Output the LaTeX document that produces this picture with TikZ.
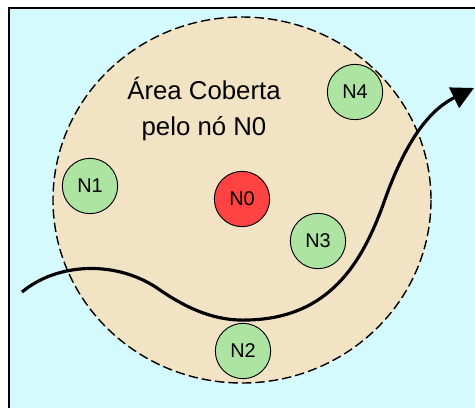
\documentclass[tikz,border=0pt]{standalone}
\usepackage{fontspec}
\setmainfont{Liberation Sans}
\usetikzlibrary{arrows.meta}
\definecolor{fundo}{RGB}{212,250,253}
\definecolor{area}{RGB}{243,227,197}
\definecolor{verde}{RGB}{174,228,162}
\definecolor{vermelho}{RGB}{255,66,66}
\tikzset{
  sensor/.style={circle, draw, line width=0.8pt, fill=verde, minimum size=1.66cm, inner sep=0pt, font=\fontsize{17}{20}\selectfont},
  alcance/.style={draw, line width=1.2pt, dash pattern=on 8pt off 3.5pt, fill=area},
  trajeto/.style={line width=2.7pt, -{Triangle[length=19pt, width=19pt]}}
}
\begin{document}
\begin{tikzpicture}[x=0.03cm, y=-0.03cm]
    \clip (0,0) rectangle (475,407);
    \draw[fill=fundo, line width=1pt] (9,8) rectangle (490,420);
    \draw[alcance] (242,200) ellipse (189 and 183);

    \node[align=center, font=\fontsize{22}{30.5}\selectfont] (texto) at (204,109) {Área Coberta\\pelo nó N0};

    \node[sensor, fill=vermelho] (N0) at (242,199) {N0};
    \foreach \nome/\x/\y in {N1/90/186, N2/243/351, N3/318/241, N4/355/92}
    \node[sensor] (\nome) at (\x,\y) {\nome};

    \coordinate (inicio) at (22,292);
    \coordinate (fim) at (474,88);
    \draw[trajeto] (inicio) .. controls (58,262) and (118,260) .. (160,290)
      .. controls (195,314) and (222,321) .. (248,320)
      .. controls (330,318) and (362,262) .. (383,205)
      .. controls (402,150) and (425,112) .. (fim);
  \end{tikzpicture}
\end{document}
